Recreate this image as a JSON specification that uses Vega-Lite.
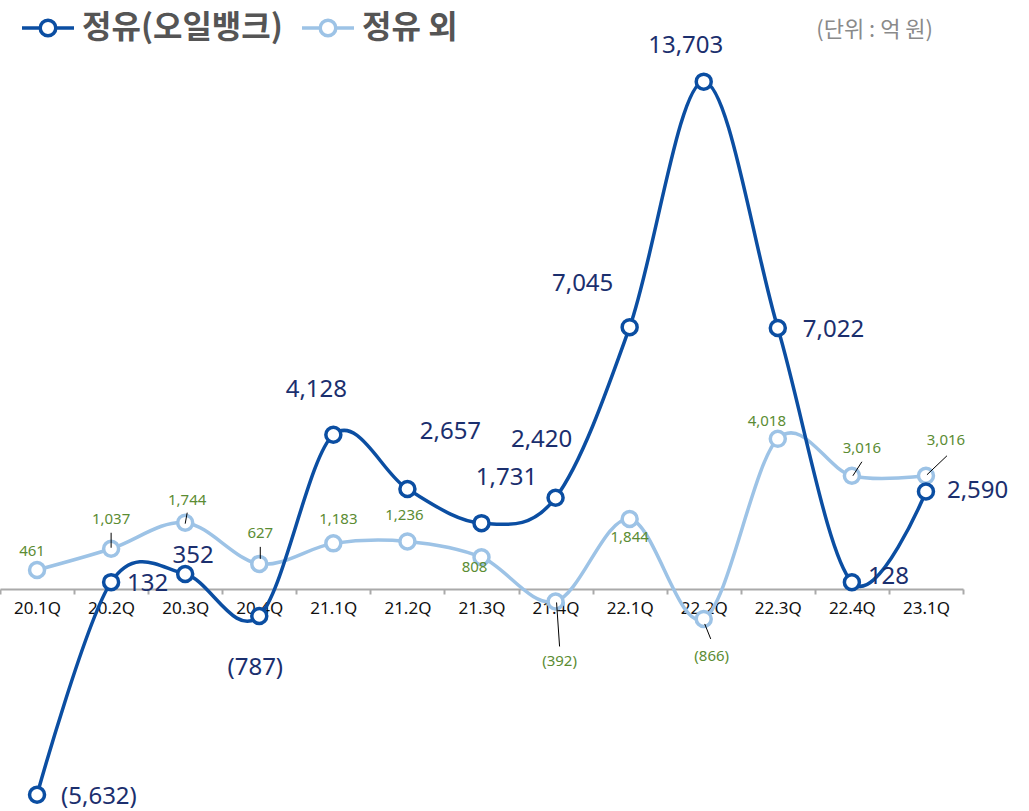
{
  "$schema": "https://vega.github.io/schema/vega-lite/v6.json",
  "width": 963,
  "height": 811,
  "autosize": {"type": "none"},
  "padding": {"left": 0, "top": 0, "right": 66, "bottom": 0},
  "background": "white",
  "config": {"view": {"stroke": null}, "font": "Noto Sans"},
  "title": {"text": "(단위 : 억 원)", "anchor": "end", "frame": "group", "orient": "top", "offset": -42, "dx": -30, "dy": 10, "fontSize": 22, "color": "#8a8a8a", "font": "Noto Sans CJK KR", "fontWeight": "normal", "baseline": "middle"},
  "data": {"values": [
    {"q": "20.1Q", "series": "정유 외", "value": 461, "label": "461"},
    {"q": "20.2Q", "series": "정유 외", "value": 1037, "label": "1,037"},
    {"q": "20.3Q", "series": "정유 외", "value": 1744, "label": "1,744"},
    {"q": "20.4Q", "series": "정유 외", "value": 627, "label": "627"},
    {"q": "21.1Q", "series": "정유 외", "value": 1183, "label": "1,183"},
    {"q": "21.2Q", "series": "정유 외", "value": 1236, "label": "1,236"},
    {"q": "21.3Q", "series": "정유 외", "value": 808, "label": "808"},
    {"q": "21.4Q", "series": "정유 외", "value": -392, "label": "(392)"},
    {"q": "22.1Q", "series": "정유 외", "value": 1844, "label": "1,844"},
    {"q": "22.2Q", "series": "정유 외", "value": -866, "label": "(866)"},
    {"q": "22.3Q", "series": "정유 외", "value": 4018, "label": "4,018"},
    {"q": "22.4Q", "series": "정유 외", "value": 3016, "label": "3,016"},
    {"q": "23.1Q", "series": "정유 외", "value": 3016, "label": "3,016"},
    {"q": "20.1Q", "series": "정유(오일뱅크)", "value": -5632, "label": "(5,632)"},
    {"q": "20.2Q", "series": "정유(오일뱅크)", "value": 132, "label": "132"},
    {"q": "20.3Q", "series": "정유(오일뱅크)", "value": 352, "label": "352"},
    {"q": "20.4Q", "series": "정유(오일뱅크)", "value": -787, "label": "(787)"},
    {"q": "21.1Q", "series": "정유(오일뱅크)", "value": 4128, "label": "4,128"},
    {"q": "21.2Q", "series": "정유(오일뱅크)", "value": 2657, "label": "2,657"},
    {"q": "21.3Q", "series": "정유(오일뱅크)", "value": 1731, "label": "1,731"},
    {"q": "21.4Q", "series": "정유(오일뱅크)", "value": 2420, "label": "2,420"},
    {"q": "22.1Q", "series": "정유(오일뱅크)", "value": 7045, "label": "7,045"},
    {"q": "22.2Q", "series": "정유(오일뱅크)", "value": 13703, "label": "13,703"},
    {"q": "22.3Q", "series": "정유(오일뱅크)", "value": 7022, "label": "7,022"},
    {"q": "22.4Q", "series": "정유(오일뱅크)", "value": 128, "label": "128"},
    {"q": "23.1Q", "series": "정유(오일뱅크)", "value": 2590, "label": "2,590"}
  ]},
  "encoding": {
    "x": {"field": "q", "type": "ordinal", "sort": null,
      "scale": {"type": "band", "paddingInner": 0, "paddingOuter": 0},
      "axis": {"title": null, "orient": "bottom", "offset": -222, "labelAngle": 0, "labelFontSize": 17, "labelColor": "#111", "labelFont": "Noto Sans", "labelPadding": 6, "domainColor": "#aaaaaa", "domainWidth": 2, "tickColor": "#aaaaaa", "tickWidth": 2, "tickSize": 5, "tickBand": "extent", "zindex": 0}},
    "y": {"field": "value", "type": "quantitative", "scale": {"domain": [-6074, 15917], "nice": false, "zero": false}, "axis": null}
  },
  "layer": [
    {"mark": {"type": "line", "interpolate": "cardinal", "strokeWidth": 3.5},
     "encoding": {"color": {"field": "series", "type": "nominal", "sort": null,
        "scale": {"domain": ["정유(오일뱅크)", "정유 외"], "range": ["#0b4ea2", "#9dc3e6"]},
        "legend": {"title": null, "orient": "none", "legendX": 20, "legendY": 0, "direction": "horizontal", "padding": 0,
          "symbolType": "M-1,0L-0.3,0M0.3,0L1,0M-0.3,0A0.3,0.3,0,1,0,0.3,0A0.3,0.3,0,1,0,-0.3,0Z",
          "symbolSize": 2704, "symbolStrokeWidth": 3.5, "symbolFillColor": "#ffffff", "symbolOpacity": 1,
          "labelFontSize": 32, "labelFont": "Noto Sans CJK KR", "labelFontWeight": "bold", "labelColor": "#555555", "labelOffset": 6, "columnPadding": 12, "labelLimit": 400}}}},
    {"mark": {"type": "point", "filled": true, "fill": "#ffffff", "size": 225, "strokeWidth": 3.5, "opacity": 1},
     "encoding": {"stroke": {"field": "series", "type": "nominal", "legend": null,
        "scale": {"domain": ["정유(오일뱅크)", "정유 외"], "range": ["#0b4ea2", "#9dc3e6"]}}}},

    {"transform": [{"filter": "datum.series == '정유 외' && datum.q == '20.2Q'"}], "mark": {"type": "rule", "color": "#000", "strokeWidth": 1, "xOffset": 0, "x2Offset": 0, "yOffset": -1, "y2Offset": -16}, "encoding": {"x2": {"field": "q"}, "y2": {"field": "value"}}},
    {"transform": [{"filter": "datum.series == '정유 외' && datum.q == '20.3Q'"}], "mark": {"type": "rule", "color": "#000", "strokeWidth": 1, "xOffset": 0, "x2Offset": 2, "yOffset": 1, "y2Offset": -10}, "encoding": {"x2": {"field": "q"}, "y2": {"field": "value"}}},
    {"transform": [{"filter": "datum.series == '정유 외' && datum.q == '20.4Q'"}], "mark": {"type": "rule", "color": "#000", "strokeWidth": 1, "xOffset": 1, "x2Offset": 1, "yOffset": -5, "y2Offset": -17}, "encoding": {"x2": {"field": "q"}, "y2": {"field": "value"}}},
    {"transform": [{"filter": "datum.series == '정유 외' && datum.q == '21.4Q'"}], "mark": {"type": "rule", "color": "#000", "strokeWidth": 1, "xOffset": 1, "x2Offset": 4, "yOffset": 1, "y2Offset": 45}, "encoding": {"x2": {"field": "q"}, "y2": {"field": "value"}}},
    {"transform": [{"filter": "datum.series == '정유 외' && datum.q == '22.2Q'"}], "mark": {"type": "rule", "color": "#000", "strokeWidth": 1, "xOffset": 1, "x2Offset": 7, "yOffset": 5, "y2Offset": 20}, "encoding": {"x2": {"field": "q"}, "y2": {"field": "value"}}},
    {"transform": [{"filter": "datum.series == '정유 외' && datum.q == '22.4Q'"}], "mark": {"type": "rule", "color": "#000", "strokeWidth": 1, "xOffset": 1, "x2Offset": 10, "yOffset": 0, "y2Offset": -14}, "encoding": {"x2": {"field": "q"}, "y2": {"field": "value"}}},
    {"transform": [{"filter": "datum.series == '정유 외' && datum.q == '23.1Q'"}], "mark": {"type": "rule", "color": "#000", "strokeWidth": 1, "xOffset": 1, "x2Offset": 21, "yOffset": -1, "y2Offset": -20}, "encoding": {"x2": {"field": "q"}, "y2": {"field": "value"}}},

    {"transform": [{"filter": "datum.series == '정유 외' && datum.q == '20.1Q'"}], "mark": {"type": "text", "fontSize": 15, "color": "#5b8c33", "baseline": "middle", "dx": -5, "dy": -19}, "encoding": {"text": {"field": "label"}}},
    {"transform": [{"filter": "datum.series == '정유 외' && datum.q == '20.2Q'"}], "mark": {"type": "text", "fontSize": 15, "color": "#5b8c33", "baseline": "middle", "dx": 0, "dy": -30}, "encoding": {"text": {"field": "label"}}},
    {"transform": [{"filter": "datum.series == '정유 외' && datum.q == '20.3Q'"}], "mark": {"type": "text", "fontSize": 15, "color": "#5b8c33", "baseline": "middle", "dx": 2, "dy": -23}, "encoding": {"text": {"field": "label"}}},
    {"transform": [{"filter": "datum.series == '정유 외' && datum.q == '20.4Q'"}], "mark": {"type": "text", "fontSize": 15, "color": "#5b8c33", "baseline": "middle", "dx": 1, "dy": -31}, "encoding": {"text": {"field": "label"}}},
    {"transform": [{"filter": "datum.series == '정유 외' && datum.q == '21.1Q'"}], "mark": {"type": "text", "fontSize": 15, "color": "#5b8c33", "baseline": "middle", "dx": 5, "dy": -24}, "encoding": {"text": {"field": "label"}}},
    {"transform": [{"filter": "datum.series == '정유 외' && datum.q == '21.2Q'"}], "mark": {"type": "text", "fontSize": 15, "color": "#5b8c33", "baseline": "middle", "dx": -3, "dy": -26}, "encoding": {"text": {"field": "label"}}},
    {"transform": [{"filter": "datum.series == '정유 외' && datum.q == '21.3Q'"}], "mark": {"type": "text", "fontSize": 15, "color": "#5b8c33", "baseline": "middle", "dx": -7, "dy": 10}, "encoding": {"text": {"field": "label"}}},
    {"transform": [{"filter": "datum.series == '정유 외' && datum.q == '21.4Q'"}], "mark": {"type": "text", "fontSize": 15, "color": "#5b8c33", "baseline": "middle", "dx": 4, "dy": 60}, "encoding": {"text": {"field": "label"}}},
    {"transform": [{"filter": "datum.series == '정유 외' && datum.q == '22.1Q'"}], "mark": {"type": "text", "fontSize": 15, "color": "#5b8c33", "baseline": "middle", "dx": 0, "dy": 18}, "encoding": {"text": {"field": "label"}}},
    {"transform": [{"filter": "datum.series == '정유 외' && datum.q == '22.2Q'"}], "mark": {"type": "text", "fontSize": 15, "color": "#5b8c33", "baseline": "middle", "dx": 8, "dy": 37}, "encoding": {"text": {"field": "label"}}},
    {"transform": [{"filter": "datum.series == '정유 외' && datum.q == '22.3Q'"}], "mark": {"type": "text", "fontSize": 15, "color": "#5b8c33", "baseline": "middle", "dx": -11, "dy": -18}, "encoding": {"text": {"field": "label"}}},
    {"transform": [{"filter": "datum.series == '정유 외' && datum.q == '22.4Q'"}], "mark": {"type": "text", "fontSize": 15, "color": "#5b8c33", "baseline": "middle", "dx": 10, "dy": -28}, "encoding": {"text": {"field": "label"}}},
    {"transform": [{"filter": "datum.series == '정유 외' && datum.q == '23.1Q'"}], "mark": {"type": "text", "fontSize": 15, "color": "#5b8c33", "baseline": "middle", "dx": 20, "dy": -36}, "encoding": {"text": {"field": "label"}}},

    {"transform": [{"filter": "datum.series == '정유(오일뱅크)' && datum.q == '20.1Q'"}], "mark": {"type": "text", "fontSize": 24, "color": "#1b2f6e", "baseline": "middle", "align": "left", "dx": 24, "dy": 2}, "encoding": {"text": {"field": "label"}}},
    {"transform": [{"filter": "datum.series == '정유(오일뱅크)' && datum.q == '20.2Q'"}], "mark": {"type": "text", "fontSize": 24, "color": "#1b2f6e", "baseline": "middle", "align": "left", "dx": 16, "dy": 2}, "encoding": {"text": {"field": "label"}}},
    {"transform": [{"filter": "datum.series == '정유(오일뱅크)' && datum.q == '20.3Q'"}], "mark": {"type": "text", "fontSize": 24, "color": "#1b2f6e", "baseline": "middle", "dx": 8, "dy": -18}, "encoding": {"text": {"field": "label"}}},
    {"transform": [{"filter": "datum.series == '정유(오일뱅크)' && datum.q == '20.4Q'"}], "mark": {"type": "text", "fontSize": 24, "color": "#1b2f6e", "baseline": "middle", "dx": -4, "dy": 52}, "encoding": {"text": {"field": "label"}}},
    {"transform": [{"filter": "datum.series == '정유(오일뱅크)' && datum.q == '21.1Q'"}], "mark": {"type": "text", "fontSize": 24, "color": "#1b2f6e", "baseline": "middle", "dx": -17, "dy": -45}, "encoding": {"text": {"field": "label"}}},
    {"transform": [{"filter": "datum.series == '정유(오일뱅크)' && datum.q == '21.2Q'"}], "mark": {"type": "text", "fontSize": 24, "color": "#1b2f6e", "baseline": "middle", "dx": 43, "dy": -57}, "encoding": {"text": {"field": "label"}}},
    {"transform": [{"filter": "datum.series == '정유(오일뱅크)' && datum.q == '21.3Q'"}], "mark": {"type": "text", "fontSize": 24, "color": "#1b2f6e", "baseline": "middle", "dx": 25, "dy": -45}, "encoding": {"text": {"field": "label"}}},
    {"transform": [{"filter": "datum.series == '정유(오일뱅크)' && datum.q == '21.4Q'"}], "mark": {"type": "text", "fontSize": 24, "color": "#1b2f6e", "baseline": "middle", "dx": -14, "dy": -58}, "encoding": {"text": {"field": "label"}}},
    {"transform": [{"filter": "datum.series == '정유(오일뱅크)' && datum.q == '22.1Q'"}], "mark": {"type": "text", "fontSize": 24, "color": "#1b2f6e", "baseline": "middle", "dx": -47, "dy": -43}, "encoding": {"text": {"field": "label"}}},
    {"transform": [{"filter": "datum.series == '정유(오일뱅크)' && datum.q == '22.2Q'"}], "mark": {"type": "text", "fontSize": 24, "color": "#1b2f6e", "baseline": "middle", "dx": -18, "dy": -36}, "encoding": {"text": {"field": "label"}}},
    {"transform": [{"filter": "datum.series == '정유(오일뱅크)' && datum.q == '22.3Q'"}], "mark": {"type": "text", "fontSize": 24, "color": "#1b2f6e", "baseline": "middle", "align": "left", "dx": 25, "dy": 2}, "encoding": {"text": {"field": "label"}}},
    {"transform": [{"filter": "datum.series == '정유(오일뱅크)' && datum.q == '22.4Q'"}], "mark": {"type": "text", "fontSize": 24, "color": "#1b2f6e", "baseline": "middle", "align": "left", "dx": 16, "dy": -5}, "encoding": {"text": {"field": "label"}}},
    {"transform": [{"filter": "datum.series == '정유(오일뱅크)' && datum.q == '23.1Q'"}], "mark": {"type": "text", "fontSize": 24, "color": "#1b2f6e", "baseline": "middle", "align": "left", "dx": 21, "dy": 0}, "encoding": {"text": {"field": "label"}}}
  ]
}
